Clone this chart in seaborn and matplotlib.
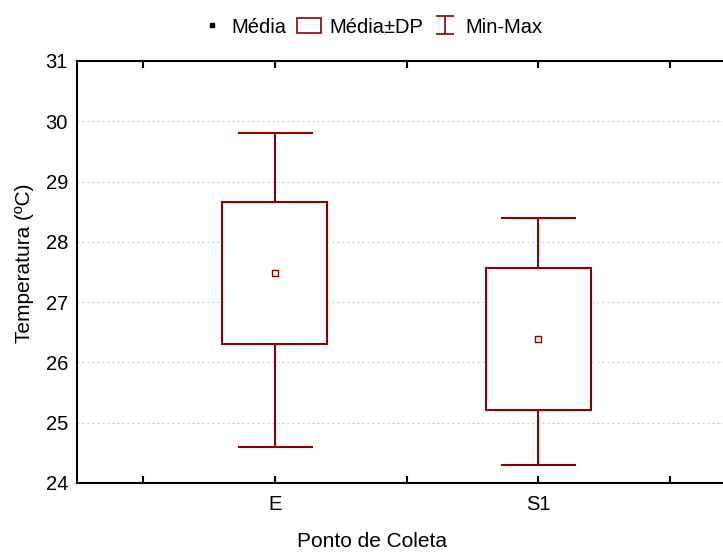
import pandas as pd
import matplotlib
matplotlib.use('Agg')
import matplotlib.pyplot as plt
import seaborn as sns
from matplotlib.patches import Patch
from matplotlib.lines import Line2D
from matplotlib.path import Path

# Valores
pontos = ['E', 'S1']
media = [27.48, 26.39]
dp = [1.18, 1.18]
minimo = [24.6, 24.3]
maximo = [29.8, 28.4]

df = pd.DataFrame({'Ponto': pontos, 'Media': media, 'DP': dp,
                   'Min': minimo, 'Max': maximo})
df['x'] = range(len(df))

sns.set_style('white')
plt.rcParams['font.family'] = ['Liberation Sans', 'DejaVu Sans']
plt.rcParams['text.color'] = 'black'
plt.rcParams['axes.labelcolor'] = 'black'

cor = '#8b0000'

fig = plt.figure(figsize=(7.23, 5.52), dpi=100)
ax = fig.add_axes([0.1065, 0.125, 0.9115, 0.7645])

# Min-Max
ax.errorbar(df['x'], df['Media'],
            yerr=[df['Media'] - df['Min'], df['Max'] - df['Media']],
            fmt='none', ecolor=cor, elinewidth=1.5, capsize=27,
            capthick=1.5, zorder=2)

# Media +- DP
ax.bar(df['x'], 2 * df['DP'], bottom=df['Media'] - df['DP'], width=0.4,
       facecolor='white', edgecolor=cor, linewidth=1.5, zorder=3)

# Media
sns.scatterplot(x=df['x'], y=df['Media'], marker='s', s=20,
                facecolor='white', edgecolor=cor, linewidth=1.0,
                zorder=4, ax=ax, legend=False)

ax.set_xlim(-0.75, 1.75)
ax.set_ylim(24, 31)
ax.set_xticks([-0.5, 0, 0.5, 1, 1.5])
ax.set_xticklabels(['', 'E', '', 'S1', ''])
ax.set_yticks(range(24, 32))

for y in range(25, 31):
    ax.axhline(y, color='#c8c8c8', linestyle=(0, (1.5, 2.5)),
               linewidth=0.9, zorder=1)

for s in ax.spines.values():
    s.set_color('black')
    s.set_linewidth(1.5)

ax.tick_params(axis='x', direction='in', length=5, width=1.5,
               top=True, bottom=True, labelsize=14.5, pad=9, colors='black')
ax.tick_params(axis='y', length=0, labelsize=14.5, pad=6.5, colors='black')

ax.set_xlabel('Ponto de Coleta', fontsize=15)
ax.set_ylabel('Temperatura (ºC)', fontsize=15)
ax.xaxis.set_label_coords(0.448, -0.117)
ax.yaxis.set_label_coords(-0.066, 0.52)

# simbolo do Min-Max na legenda
simbolo = Path([(-1, 1), (1, 1), (0, 1), (0, -1), (-1, -1), (1, -1)],
               [Path.MOVETO, Path.LINETO, Path.MOVETO, Path.LINETO,
                Path.MOVETO, Path.LINETO])

handles = [
    Line2D([], [], marker='s', color='black', linestyle='none', markersize=3),
    Patch(facecolor='white', edgecolor=cor, linewidth=1.2),
    Line2D([], [], marker=simbolo, color=cor, linestyle='none',
           markersize=13, markeredgewidth=1.2, fillstyle='none'),
]
fig.legend(handles, ['Média', 'Média±DP', 'Min-Max'], loc='center',
           bbox_to_anchor=(0.513, 0.951), ncol=3, frameon=False,
           fontsize=14.5, handlelength=1.2, handletextpad=0.4,
           columnspacing=0.5)

fig.savefig('out.png', dpi=100)
